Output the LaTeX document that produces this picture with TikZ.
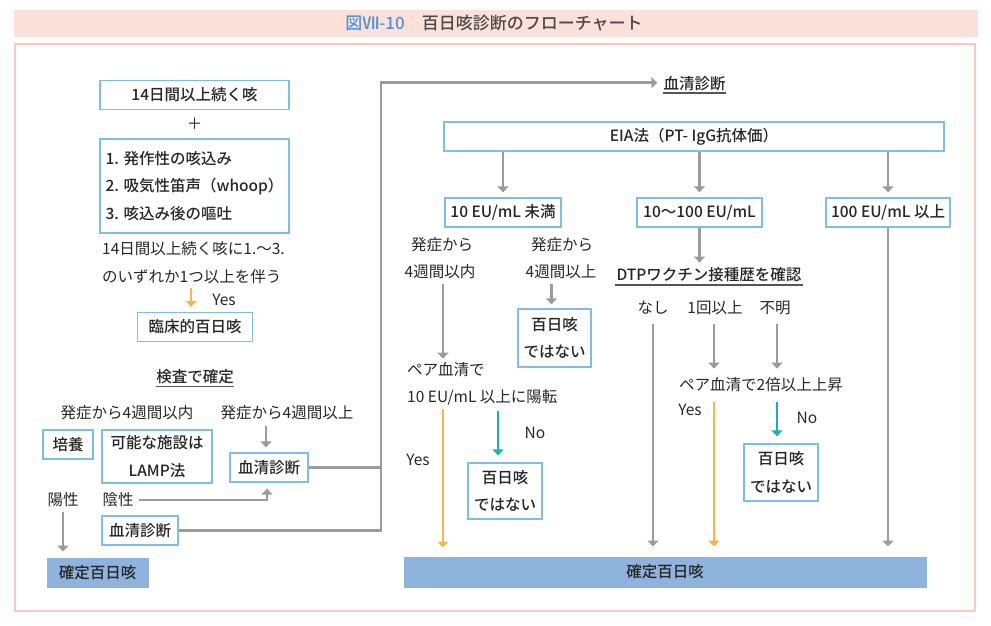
\documentclass[tikz,border=0pt]{standalone}
\usepackage{fontspec}
\setmainfont{Noto Sans CJK JP}
\newfontfamily\jpm{Noto Sans CJK JP}[UprightFont={* Medium}]
\usetikzlibrary{arrows.meta,calc}
\definecolor{txt}{HTML}{262626}
\definecolor{titlebg}{HTML}{FCE1DB}
\definecolor{framec}{HTML}{F9C9C2}
\definecolor{titleblue}{HTML}{4F93D2}
\definecolor{titlegray}{HTML}{4A4A4A}
\definecolor{boxc}{HTML}{7DBDE6}
\definecolor{fillc}{HTML}{8EB3DD}
\definecolor{arrg}{HTML}{9B9B9B}
\definecolor{orng}{HTML}{FBB545}
\definecolor{teal2}{HTML}{14B2B0}
\definecolor{ulc}{HTML}{555555}
\begin{document}
\begin{tikzpicture}[x=1pt,y=-1pt,
  every node/.style={inner sep=0pt, text=txt, font=\fontsize{15.5}{18}\selectfont},
  bx/.style={draw=boxc, line width=1.3pt, fill=white, align=center,
    font=\jpm\fontsize{15.5}{27.5}\selectfont},
  hd/.style={font=\jpm\fontsize{15.5}{18}\selectfont},
  filledbox/.style={fill=fillc, draw=fillc, line width=1pt, font=\jpm\fontsize{15.5}{18}\selectfont},
  gline/.style={draw=arrg, line width=2.4pt},
  garr/.style={gline, -{Triangle[length=6pt,width=11pt]}},
  oarr/.style={garr, draw=orng},
  tarr/.style={garr, draw=teal2},
  uline/.style={draw=ulc, line width=1.4pt}
]
\useasboundingbox (0,0) rectangle (991,626);
% title and frame
\fill[titlebg] (14,10) rectangle (978,37);
\draw[framec, line width=2pt] (15,44) rectangle (975,611);
\node[font=\jpm\fontsize{17}{18}\selectfont] (title) at (494,23)
  {\textcolor{titleblue}{図Ⅶ-10}\hspace{1em}\textcolor{titlegray}{百日咳診断のフローチャート}};

% ---------- left column ----------
\node[bx, minimum width=189pt, minimum height=29pt] (cough) at (194.5,95) {14日間以上続く咳};
\node[font=\fontsize{15.5}{18}\selectfont] (plus) at (194.5,124) {＋};
\node[bx, minimum width=189pt, minimum height=94pt, align=left] (sym) at (194.5,186)
  {1. 発作性の咳込み\\2. 吸気性笛声（whoop）\\3. 咳込み後の嘔吐};
\node[anchor=west] (cond1) at (102,249) {14日間以上続く咳に1.～3.};
\node[anchor=west] (cond2) at (102,277) {のいずれか1つ以上を伴う};
\node[bx, minimum width=115pt, minimum height=29pt] (clin) at (195,327) {臨床的百日咳};
\coordinate (ya) at (191,288);
\draw[oarr, shorten >=5pt] (ya) -- (ya |- clin.north);
\node (yes0) at (224,300) {Yes};

\node[hd] (kensa) at (195,377) {検査で確定};
\draw[uline] ($(kensa.south west)+(0,2)$) -- ($(kensa.south east)+(0,2)$);
\node (onset1) at (127,413) {発症から4週間以内};
\node (onset2) at (287,413) {発症から4週間以上};
\node[bx, minimum width=50pt, minimum height=29pt] (cult) at (68,444.5) {培養};
\node[bx, minimum width=110pt, minimum height=53pt] (lamp) at (157,456.5) {可能な施設は\\LAMP法};
\node[bx, minimum width=78pt, minimum height=29pt] (sero1) at (269,467.5) {血清診断};
\draw[garr, shorten <=6pt, shorten >=5pt] ([xshift=-3pt]sero1.north |- onset2.south) -- ([xshift=-3pt]sero1.north);
\node (pos) at (63,500) {陽性};
\node (neg) at (118,500) {陰性};
\draw[garr, shorten <=5pt, shorten >=6pt] (neg.east) -| ([xshift=-2pt]sero1.south);
\node[bx, minimum width=76pt, minimum height=29pt] (sero2) at (140,530.5) {血清診断};
\node[filledbox, minimum width=101pt, minimum height=29pt] (conf1) at (97.5,572.5) {確定百日咳};
\draw[garr, shorten <=5pt, shorten >=6pt] (pos.south) -- (pos.south |- conf1.north);

% connectors to serology
\node[hd] (serohead) at (694.5,84) {血清診断};
\draw[uline] ($(serohead.south west)+(0,1.5)$) -- ($(serohead.south east)+(0,1.5)$);
\coordinate (jx) at (380.7,82.7);
\draw[gline] (sero1.east) -- (sero1.east -| jx);
\draw[garr, shorten >=6pt] (sero2.east) -| (jx) -- (jx -| serohead.west);

% ---------- right part ----------
\node[bx, minimum width=500pt, minimum height=29pt] (eia) at (694,136.5) {EIA法（PT- IgG抗体価）};
\node[bx, minimum width=116pt, minimum height=29pt] (b1) at (503,212.5) {10 EU/mL 未満};
\node[bx, minimum width=125pt, minimum height=29pt] (b2) at (699.5,212.5) {10～100 EU/mL};
\node[bx, minimum width=124pt, minimum height=29pt] (b3) at (888,212.5) {100 EU/mL 以上};
\foreach \b in {b1,b2,b3}
  \draw[garr, shorten >=5pt] (eia.south -| \b.north) -- (\b.north);

% under b1
\node (l1a) at (442,245) {発症から};
\node (l1b) at (440,272) {4週間以内};
\node (r1a) at (562,245) {発症から};
\node (r1b) at (561,272) {4週間以上};
\node[anchor=west] (pair1a) at (407,370) {ペア血清で};
\node[anchor=west] (pair1b) at (407,397) {10 EU/mL 以上に陽転};
\draw[garr, shorten <=5pt, shorten >=4pt] ([xshift=3pt]l1b.south) -- ([xshift=3pt]l1b.south |- pair1a.north);
\node[bx, minimum width=73pt, minimum height=58pt] (no1) at (554.5,338) {百日咳\\ではない};
\draw[garr, shorten <=5pt, shorten >=4pt] ([xshift=-3pt]no1.north |- r1b.south) -- ([xshift=-3pt]no1.north);
\node[filledbox, minimum width=522pt, minimum height=30pt] (conf2) at (665,572) {確定百日咳};
\coordinate (yesL) at (443,409);
\draw[oarr, shorten >=9pt] (yesL) -- (yesL |- conf2.north);
\node (yes1) at (418,460) {Yes};
\node[bx, minimum width=74pt, minimum height=56pt] (no2) at (505,491) {百日咳\\ではない};
\coordinate (noL) at (498,411);
\draw[tarr, shorten >=7pt] (noL) -- (noL |- no2.north);
\node (no1lbl) at (535,433) {No};

% under b2
\node[hd, minimum width=188pt] (dtp) at (709,275) {DTPワクチン接種歴を確認};
\draw[uline] ($(dtp.south west)+(0,2.5)$) -- ($(dtp.south east)+(0,2.5)$);
\draw[garr, shorten >=5pt] (b2.south) -- (b2.south |- dtp.north);
\node (nashi) at (653,308) {なし};
\node (ikkai) at (715,308) {1回以上};
\node (fumei) at (775,308) {不明};
\node (pair2) at (761,385) {ペア血清で2倍以上上昇};
\draw[garr, shorten <=9pt, shorten >=10pt] (nashi.south) -- (nashi.south |- conf2.north);
\draw[garr, shorten <=9pt, shorten >=9pt] ([xshift=-1pt]ikkai.south) -- ([xshift=-1pt]ikkai.south |- pair2.north);
\draw[garr, shorten <=9pt, shorten >=9pt] ([xshift=2pt]fumei.south) -- ([xshift=2pt]fumei.south |- pair2.north);
\coordinate (yesR) at (714,402);
\draw[oarr, shorten >=10pt] (yesR) -- (yesR |- conf2.north);
\node (yes2) at (690,410) {Yes};
\node[bx, minimum width=74pt, minimum height=57pt] (no3) at (781,472.5) {百日咳\\ではない};
\coordinate (noR) at (777,402);
\draw[tarr, shorten >=7pt] (noR) -- (noR |- no3.north);
\node (no2lbl) at (807,418) {No};

% under b3
\draw[garr, shorten >=10pt] (b3.south) -- (b3.south |- conf2.north);
\end{tikzpicture}
\end{document}
